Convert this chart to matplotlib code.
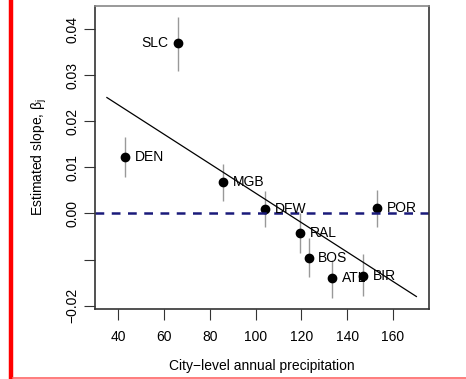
import matplotlib
matplotlib.use("Agg")
import numpy as np
import matplotlib.pyplot as plt
from matplotlib.lines import Line2D

plt.rcParams['font.family'] = ['Liberation Sans', 'DejaVu Sans']

# city estimates
cities = ["SLC", "DEN", "MGB", "DFW", "RAL", "BOS", "ATL", "BIR", "POR"]
precip = [66.1, 43.1, 85.7, 104.3, 119.3, 123.2, 133.6, 146.9, 153.3]
beta = [0.0369, 0.0123, 0.0069, 0.0009, -0.0043, -0.0096, -0.0140, -0.0135, 0.0012]
lower = [0.0310, 0.0079, 0.0028, -0.0030, -0.0085, -0.0139, -0.0184, -0.0180, -0.0030]
upper = [0.0427, 0.0166, 0.0108, 0.0049, 0.0000, -0.0054, -0.0101, -0.0088, 0.0051]
label_side = ["left", "right", "right", "right", "right", "right", "right", "right", "right"]

# fitted line
fit_x = [35, 170.3]
fit_intercept = 0.0363
fit_slope = -0.000319

xticks = [40, 60, 80, 100, 120, 140, 160]
yticks = [-0.02, -0.01, 0.00, 0.01, 0.02, 0.03, 0.04]
ytick_labels = ["\u22120.02", "", "0.00", "0.01", "0.02", "0.03", "0.04"]

W, H = 466, 379
fig = plt.figure(figsize=(W / 100, H / 100), dpi=100)
ax = fig.add_axes([95 / W, 1 - 309.3 / H, (428.5 - 95) / W, (309.3 - 5.5) / H])

ax.set_xlim(29.8, 175.6)
ax.set_ylim(-0.0208, 0.0451)

ax.vlines(precip, lower, upper, color="#999999", lw=1)
ax.plot(precip, beta, "o", color="black", ms=6)
ax.axhline(0, color="#1a1a7a", lw=1.8, ls=(0, (3.5, 3)))
fx = np.array(fit_x)
ax.plot(fx, fit_intercept + fit_slope * fx, color="black", lw=0.9)

for name, x, y, side in zip(cities, precip, beta, label_side):
    if side == "left":
        ax.annotate(name, (x, y), xytext=(-7, 0), textcoords="offset points",
                    ha="right", va="center", fontsize=10)
    else:
        ax.annotate(name, (x, y), xytext=(7, 0), textcoords="offset points",
                    ha="left", va="center", fontsize=10)

ax.set_xticks(xticks)
ax.set_yticks(yticks)
ax.set_yticklabels(ytick_labels, rotation=90, va="center")
ax.tick_params(axis="both", length=8, width=0.8, color="#333333", labelsize=10)
ax.tick_params(axis="x", pad=7)
ax.tick_params(axis="y", pad=3)
for side in ["left", "right", "bottom"]:
    ax.spines[side].set_color("#333333")
ax.spines["top"].set_color("#888888")
for s in ax.spines.values():
    s.set_linewidth(1.2)

ax.set_xlabel("City\u2212level annual precipitation", fontsize=10, labelpad=11)
ax.set_ylabel("Estimated slope, \u03b2$_{\\mathregular{j}}$", fontsize=10, labelpad=12)

# red frame bits from the screenshot
fig.add_artist(Line2D([11 / W, 11 / W], [0, 1], color="red", lw=3.2, transform=fig.transFigure))
fig.add_artist(Line2D([13 / W, 1], [0.6 / H, 0.6 / H], color="#ff6666", lw=1.2, transform=fig.transFigure))

fig.savefig("out.png", dpi=100)
